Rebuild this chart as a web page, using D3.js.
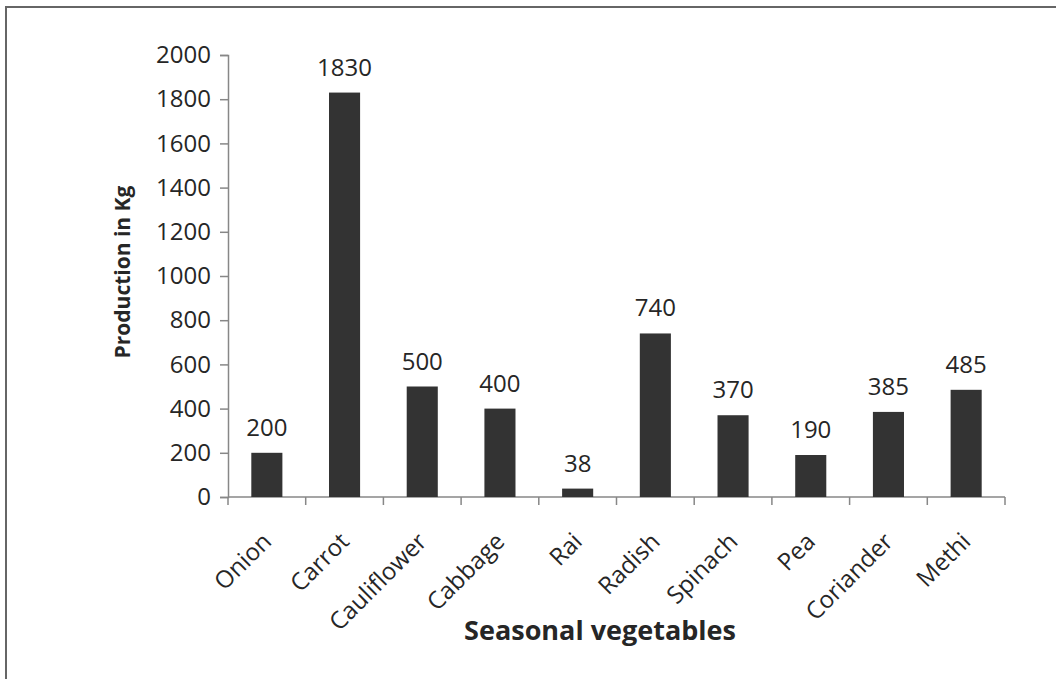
<!DOCTYPE html>
<html lang="en">
<head>
    <meta charset="UTF-8">
    <title>Seasonal vegetables</title>
    <style>
        html,body{margin:0;padding:0;background:#fff;}
        #main{width:1056px;height:679px;}
        text{font-family:"Open Sans",sans-serif;fill:#262626;}
    </style>
</head>
<body>
<div id="main"></div>
<script src="https://d3js.org/d3.v7.min.js"></script>
<script>
    // data
    const vegetables=['Onion','Carrot','Cauliflower','Cabbage','Rai','Radish','Spinach','Pea','Coriander','Methi']
    const production=[200,1830,500,400,38,740,370,190,385,485]
    const yTicks=[0,200,400,600,800,1000,1200,1400,1600,1800,2000]

    const width=1056
    const height=679
    const plot={left:228,right:1005,top:55,bottom:497}

    const svg=d3.select('#main').append('svg')
        .attr('width',width)
        .attr('height',height)

    // outer frame (only left and top edges visible)
    svg.append('path')
        .attr('d',`M6,${height+5}V7H${width+5}`)
        .attr('fill','none')
        .attr('stroke','#666')
        .attr('stroke-width',2)

    const xScale=d3.scaleBand()
        .domain(vegetables)
        .range([plot.left,plot.right])
        .paddingInner(0.6)
        .paddingOuter(0.3)

    const yScale=d3.scaleLinear()
        .domain([0,2000])
        .range([plot.bottom,plot.top])

    // y axis
    const yAxis=svg.append('g')
        .attr('transform',`translate(${plot.left},0)`)
        .call(d3.axisLeft(yScale).tickValues(yTicks).tickFormat(d3.format('d')).tickSize(8).tickPadding(9).tickSizeOuter(8))
    yAxis.selectAll('text').style('font-size','24px').attr('fill','#262626').attr('font-family','"Open Sans",sans-serif')

    // x axis with ticks between categories
    const xAxis=svg.append('g').attr('transform',`translate(0,${plot.bottom})`)
    xAxis.append('line')
        .attr('x1',plot.left).attr('x2',plot.right)
    const step=xScale.step()
    xAxis.selectAll('.tk')
        .data(d3.range(vegetables.length+1))
        .join('line')
        .attr('x1',i=>plot.left+i*step).attr('x2',i=>plot.left+i*step)
        .attr('y1',0).attr('y2',8)
    xAxis.selectAll('line').attr('stroke','#878787').attr('stroke-width',1.5)
    yAxis.selectAll('path,line').attr('stroke','#878787').attr('stroke-width',1.5)

    xAxis.selectAll('.lbl')
        .data(vegetables)
        .join('text')
        .attr('transform',d=>`translate(${xScale(d)+xScale.bandwidth()/2+6},46) rotate(-45)`)
        .attr('text-anchor','end')
        .style('font-size','24px')
        .text(d=>d)

    // bars
    svg.append('g').selectAll('rect')
        .data(production)
        .join('rect')
        .attr('x',(d,i)=>xScale(vegetables[i]))
        .attr('y',d=>yScale(d))
        .attr('width',xScale.bandwidth())
        .attr('height',d=>plot.bottom-yScale(d))
        .attr('fill','#333')

    // value labels
    svg.append('g').selectAll('text')
        .data(production)
        .join('text')
        .attr('x',(d,i)=>xScale(vegetables[i])+xScale.bandwidth()/2)
        .attr('y',d=>yScale(d)-17)
        .attr('text-anchor','middle')
        .style('font-size','24px')
        .text(d=>d)

    // axis titles
    svg.append('text')
        .attr('x',600)
        .attr('y',640)
        .attr('text-anchor','middle')
        .style('font-size','27px')
        .style('font-weight','bold')
        .text('Seasonal vegetables')

    svg.append('text')
        .attr('transform',`translate(130,272) rotate(-90)`)
        .attr('text-anchor','middle')
        .style('font-size','21px')
        .style('font-weight','bold')
        .text('Production in Kg')
</script>
</body>
</html>
